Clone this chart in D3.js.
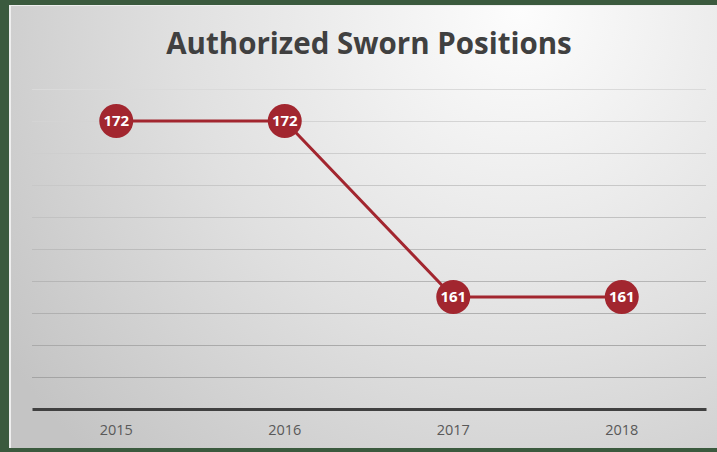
<!DOCTYPE html>
<html>
<head>
<meta charset="utf-8">
<script src="https://cdnjs.cloudflare.com/ajax/libs/d3/7.8.5/d3.min.js"></script>
<style>
html,body{margin:0;padding:0;background:#3b5a3e;}
svg{display:block;}
</style>
</head>
<body>
<svg id="chart" width="717" height="452"></svg>
<script>
const title = "Authorized Sworn Positions";
const years = ["2015", "2016", "2017", "2018"];
const positions = [172, 172, 161, 161];
const yDomain = [154, 174];
const yTicks = [156, 158, 160, 162, 164, 166, 168, 170, 172, 174];

const W = 717, H = 452;
const svg = d3.select("#chart");
const defs = svg.append("defs");
const grad = defs.append("radialGradient")
  .attr("id", "bg").attr("gradientUnits", "userSpaceOnUse")
  .attr("cx", 520).attr("cy", 10).attr("r", 620);
grad.append("stop").attr("offset", "0%").attr("stop-color", "#fdfdfd");
grad.append("stop").attr("offset", "55%").attr("stop-color", "#e0e0e0");
grad.append("stop").attr("offset", "100%").attr("stop-color", "#c4c4c4");

// frame
svg.append("rect").attr("x", 0).attr("y", 0).attr("width", W).attr("height", H).attr("fill", "#3b5a3e");
svg.append("rect").attr("x", 9).attr("y", 5).attr("width", W - 9).attr("height", 443).attr("fill", "#eeeeee");
svg.append("rect").attr("x", 11).attr("y", 6).attr("width", W - 11).attr("height", 442).attr("fill", "url(#bg)");

const x = d3.scaleBand().domain(years).range([32, 706]).padding(0);
const y = d3.scaleLinear().domain(yDomain).range([409, 89]);

// gridlines (lighter at top, darker toward bottom, as in the reference)
const gridColor = d3.scaleLinear().domain([174, 156]).range(["#dadada", "#a4a4a4"]);
svg.append("g").selectAll("line").data(yTicks).join("line")
  .attr("x1", 32).attr("x2", 706)
  .attr("y1", d => y(d) + 0.5).attr("y2", d => y(d) + 0.5)
  .attr("stroke", d => gridColor(d)).attr("stroke-width", 1.2);

// x axis
const xAxis = svg.append("g").attr("transform", `translate(0,${y(yDomain[0])})`)
  .call(d3.axisBottom(x).tickSize(0).tickPadding(16));
xAxis.select(".domain").attr("stroke", "#404040").attr("stroke-width", 3);
xAxis.selectAll("text").attr("fill", "#595959").attr("font-family", "'Open Sans', sans-serif")
  .attr("font-size", 14.5);

// title
svg.append("text").attr("x", 369).attr("y", 54).attr("text-anchor", "middle")
  .attr("font-family", "'Open Sans', sans-serif").attr("font-weight", "bold")
  .attr("font-size", 29.5).attr("fill", "#404040").text(title);

// line
const data = years.map((yr, i) => ({yr, v: positions[i]}));
const line = d3.line().x(d => x(d.yr) + x.bandwidth() / 2).y(d => y(d.v));
svg.append("path").datum(data).attr("d", line)
  .attr("fill", "none").attr("stroke", "#a2262f").attr("stroke-width", 3);

// markers
const pts = svg.append("g").selectAll("g").data(data).join("g")
  .attr("transform", d => `translate(${x(d.yr) + x.bandwidth() / 2},${y(d.v)})`);
pts.append("circle").attr("r", 17).attr("fill", "#a2262f");
pts.append("text").attr("text-anchor", "middle").attr("dy", "0.36em")
  .attr("font-family", "'Open Sans', sans-serif").attr("font-weight", "bold")
  .attr("font-size", 15).attr("fill", "#ffffff").text(d => d.v);
</script>
</body>
</html>
